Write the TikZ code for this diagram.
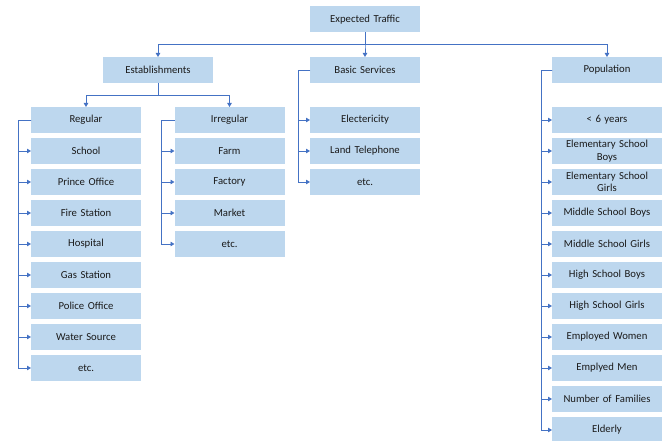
\documentclass[tikz,border=0pt]{standalone}
\usepackage{fontspec}
\setmainfont{Carlito}
\usetikzlibrary{arrows.meta,positioning,calc}
\definecolor{boxfill}{HTML}{BDD7EE}
\definecolor{wire}{HTML}{4472C4}
\definecolor{ink}{HTML}{1A1A1A}
\tikzset{
  item/.style={fill=boxfill, minimum width=110pt, minimum height=26pt, inner sep=0pt,
               outer sep=0pt, text width=100pt, align=center,
               font=\fontsize{10.7}{12.6}\selectfont\color{ink}},
  flow/.style={-{Triangle[length=4pt,width=4.5pt]}, draw=wire, line width=0.9pt}
}
\begin{document}
\begin{tikzpicture}[x=1pt, y=-1pt, node distance=5pt]
    \useasboundingbox (0,0) rectangle (666,441);

    %% Top levels
    \node[item] (traffic) at (365,19.5) {Expected Traffic};
    \node[item] (est)   at (158,70) {Establishments};
    \node[item] (basic) at (365,70) {Basic Services};
    \node[item] (pop)   at (607,70) {Population};

    %% Establishments
    \node[item] (reg) at (86,120) {Regular};
    \node[item] (irr) at (229.5,120) {Irregular};
    \foreach \n/\t [remember=\n as \p (initially reg)] in
        {school/School, prince/Prince Office, fire/Fire Station, hosp/Hospital,
         gas/Gas Station, police/Police Office, water/Water Source, regetc/etc.}
      \node[item, below=of \p] (\n) {\t};
    \foreach \n/\t [remember=\n as \p (initially irr)] in
        {farm/Farm, factory/Factory, market/Market, irretc/etc.}
      \node[item, below=of \p] (\n) {\t};

    %% Basic services
    \node[item] (elec) at (365,120) {Electericity};
    \node[item, below=of elec] (phone) {Land Telephone};
    \node[item, below=of phone] (basetc) {etc.};

    %% Population
    \node[item] (kids) at (607,120) {< 6 years};
    \foreach \n/\t [remember=\n as \p (initially kids)] in
        {esb/Elementary School\\Boys, esg/Elementary School\\Girls,
         msb/Middle School Boys, msg/Middle School Girls, hsb/High School Boys,
         hsg/High School Girls, women/Employed Women, men/Emplyed Men,
         fam/Number of Families, old/Elderly}
      \node[item, below=of \p] (\n) {\t};

    %% Connectors
    \foreach \c in {est,basic,pop}
      \draw[flow] (traffic.south) -- ++(0,12) -| (\c.north);
    \foreach \c in {reg,irr}
      \draw[flow] (est.south) -- ++(0,12) -| (\c.north);
    \foreach \c in {school,prince,fire,hosp,gas,police,water,regetc}
      \draw[flow] (reg.west) -- ++(-13,0) |- (\c.west);
    \foreach \c in {farm,factory,market,irretc}
      \draw[flow] (irr.west) -- ++(-13,0) |- (\c.west);
    \foreach \c in {elec,phone,basetc}
      \draw[flow] (basic.west) -- ++(-12,0) |- (\c.west);
    \foreach \c in {kids,esb,esg,msb,msg,hsb,hsg,women,men,fam,old}
      \draw[flow] (pop.west) -- ++(-11,0) |- (\c.west);
\end{tikzpicture}
\end{document}
